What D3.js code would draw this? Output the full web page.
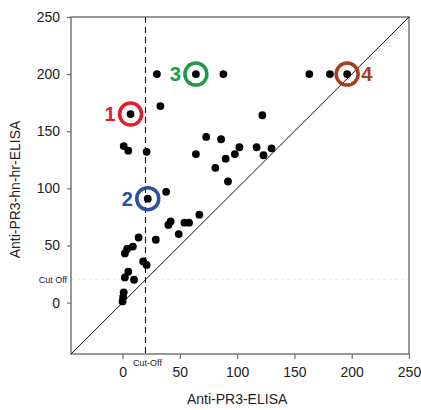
<!DOCTYPE html>
<html>
<head>
<meta charset="utf-8">
<script src="https://cdn.jsdelivr.net/npm/d3@7"></script>
<style>
  body { margin: 0; background: #fff; }
  svg text { font-family: "Liberation Sans", Arial, sans-serif; }
</style>
</head>
<body>
<svg id="chart" width="421" height="410"></svg>
<script>
// values
const elisa   = [30, 64, 88, 163, 181, 196, 33, 7, 122, 1, 5, 21, 73, 86, 64, 90, 98, 102, 117, 123, 130, 81, 92,
                 22, 38, 67, 42, 40, 54, 58, 49, 29, 14, 9, 4, 2, 18, 21, 5, 2, 10, 1, 0.5, 0];
const hnhr    = [200, 200, 200, 200, 200, 200, 172, 165, 164, 137, 133, 132, 145, 143, 130, 126, 130, 136, 136, 129, 135, 118, 106,
                 91, 97, 77, 71, 68, 70, 70, 60, 55, 57, 49, 47, 43, 36, 33, 27, 22, 20, 9, 5, 1];

const markLabels = ["1", "2", "3", "4"];
const markX = [7, 22, 64, 196];
const markY = [165, 91, 200, 200];
const markColors = ["#e41b2b", "#2e4f9f", "#1f9a47", "#a63d1e"];

const ticks = [0, 50, 100, 150, 200, 250];
const cutOff = 20;

const svg = d3.select("#chart");
const margin = { left: 71, top: 17, right: 12, bottom: 56 };
const width = 421 - margin.left - margin.right;
const height = 410 - margin.top - margin.bottom;

const x = d3.scaleLinear().domain([-45, 250]).range([margin.left, margin.left + width]);
const y = d3.scaleLinear().domain([-45, 250]).range([margin.top + height, margin.top]);

// faint horizontal cut off guide
svg.append("line")
  .attr("x1", x(-45)).attr("x2", x(250))
  .attr("y1", y(cutOff)).attr("y2", y(cutOff))
  .attr("stroke", "#ececec").attr("stroke-width", 1)
  .attr("stroke-dasharray", "3,3");

// frame
svg.append("rect")
  .attr("x", margin.left).attr("y", margin.top)
  .attr("width", width).attr("height", height)
  .attr("fill", "none").attr("stroke", "#6e6e6e").attr("stroke-width", 1.4);

// axes
const xAxis = svg.append("g")
  .attr("transform", `translate(0,${margin.top + height})`)
  .call(d3.axisBottom(x).tickValues(ticks).tickSize(5).tickPadding(8));
const yAxis = svg.append("g")
  .attr("transform", `translate(${margin.left},0)`)
  .call(d3.axisLeft(y).tickValues(ticks).tickSize(4).tickPadding(7));

[xAxis, yAxis].forEach(g => {
  g.select(".domain").remove();
  g.selectAll(".tick line").attr("stroke", "#6e6e6e").attr("stroke-width", 1.2);
  g.selectAll(".tick text").attr("fill", "#222").style("font-size", "14px");
});

// cut-off labels
svg.append("text")
  .attr("x", x(cutOff) + 2).attr("y", margin.top + height + 12)
  .attr("text-anchor", "middle").attr("fill", "#222")
  .style("font-size", "9px").text("Cut-Off");
svg.append("text")
  .attr("x", margin.left - 4).attr("y", y(cutOff) + 3)
  .attr("text-anchor", "end").attr("fill", "#222")
  .style("font-size", "9px").text("Cut Off");

// diagonal y = x
svg.append("line")
  .attr("x1", x(-45)).attr("y1", y(-45))
  .attr("x2", x(250)).attr("y2", y(250))
  .attr("stroke", "#111").attr("stroke-width", 1);

// dashed vertical cut-off
svg.append("line")
  .attr("x1", x(cutOff)).attr("x2", x(cutOff))
  .attr("y1", margin.top).attr("y2", margin.top + height)
  .attr("stroke", "#111").attr("stroke-width", 1.1)
  .attr("stroke-dasharray", "6,4");

// points
svg.append("g").selectAll("circle")
  .data(d3.range(elisa.length))
  .join("circle")
    .attr("cx", i => x(elisa[i]))
    .attr("cy", i => y(hnhr[i]))
    .attr("r", 3.9)
    .attr("fill", "#000");

// highlighted cases
const marks = svg.append("g").selectAll("g")
  .data(d3.range(markLabels.length))
  .join("g");

marks.append("circle")
  .attr("cx", i => x(markX[i]))
  .attr("cy", i => y(markY[i]))
  .attr("r", 11)
  .attr("fill", "none")
  .attr("stroke", i => markColors[i])
  .attr("stroke-width", 3.5);

marks.append("text")
  .attr("x", i => i === 3 ? x(markX[i]) + 14 : x(markX[i]) - 15)
  .attr("y", i => y(markY[i]))
  .attr("dy", "0.36em")
  .attr("text-anchor", i => i === 3 ? "start" : "end")
  .attr("fill", i => markColors[i])
  .style("font-size", "20px").style("font-weight", "bold")
  .text(i => markLabels[i]);

// axis titles
svg.append("text")
  .attr("x", x(100)).attr("y", 404)
  .attr("text-anchor", "middle").attr("fill", "#222")
  .style("font-size", "14px").text("Anti-PR3-ELISA");

svg.append("text")
  .attr("transform", `translate(20,${(margin.top + margin.top + height) / 2 + 4}) rotate(-90)`)
  .attr("text-anchor", "middle").attr("fill", "#222")
  .style("font-size", "14px").text("Anti-PR3-hn-hr-ELISA");
</script>
</body>
</html>
